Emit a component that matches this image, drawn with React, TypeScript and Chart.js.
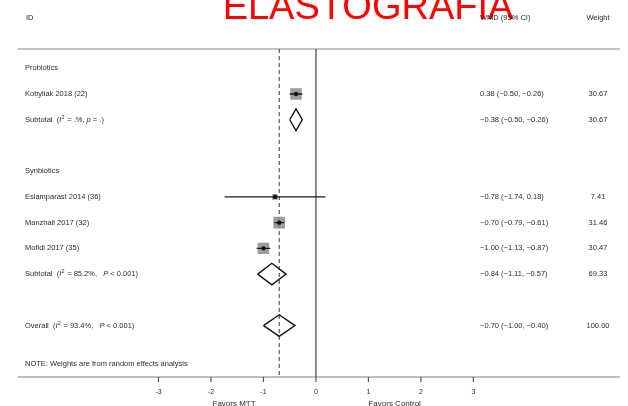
import React, { useEffect, useRef } from "react";
import { Chart, registerables } from "chart.js";

Chart.register(...registerables);

// ---------- data ----------
const headings = ["Probiotics", "Synbiotics"];
const headingRows = [0, 4];

const studyLabels = ["Kobyliak 2018 (22)", "Eslamparast 2014 (36)", "Manzhali 2017 (32)", "Mofidi 2017 (35)"];
const studyRows = [1, 5, 6, 7];
const studyEst = [-0.38, -0.78, -0.7, -1.0];
const studyLo = [-0.5, -1.74, -0.79, -1.13];
const studyHi = [-0.26, 0.18, -0.61, -0.87];
const studyWeight = [30.67, 7.41, 31.46, 30.47];
const studyText = [
  "0.38 (\u22120.50, \u22120.26)",
  "\u22120.78 (\u22121.74, 0.18)",
  "\u22120.70 (\u22120.79, \u22120.61)",
  "\u22121.00 (\u22121.13, \u22120.87)",
];
const studyWeightText = ["30.67", "7.41", "31.46", "30.47"];

const pooledLabels = ["Subtotal", "Subtotal", "Overall"];
const pooledRows = [2, 8, 10];
const pooledEst = [-0.38, -0.84, -0.7];
const pooledLo = [-0.5, -1.11, -1.0];
const pooledHi = [-0.26, -0.57, -0.4];
const pooledI2 = [".%", "85.2%", "93.4%"];
const pooledP = [["p", " = .)"], ["P", " < 0.001)"], ["P", " < 0.001)"]];
const pooledText = [
  "\u22120.38 (\u22120.50, \u22120.26)",
  "\u22120.84 (\u22121.11, \u22120.57)",
  "\u22120.70 (\u22121.00, \u22120.40)",
];
const pooledWeightText = ["30.67", "69.33", "100.00"];

const overallEffect = -0.7;
const xTicks = [-3, -2, -1, 0, 1, 2, 3];
const noteText = "NOTE: Weights are from random effects analysis";
const noteRow = 11.5;
const titleText = "ELASTOGRAFIA";
const headerTexts = ["ID", "WMD (95% CI)", "Weight"];
const favorsTexts = ["Favors MTT", "Favors Control"];

// ---------- layout ----------
const W = 628;
const H = 406;
const X_MIN = -5.677;
const X_MAX = 5.789;
const Y_MIN = -0.75;
const Y_MAX = 12.0;
const FONT = "'Liberation Sans', Arial, sans-serif";
const TXT = "#2b2b2b";

export default function App() {
  const ref = useRef<HTMLCanvasElement | null>(null);

  useEffect(() => {
    if (!ref.current) return;

    const squareR = studyWeight.map((w) => (11.5 * Math.sqrt(w / 30.67)) / 1.414);
    const h = 0.42;

    const datasets: any[] = [];

    // frame lines
    datasets.push({
      data: [{ x: X_MIN, y: Y_MIN }, { x: X_MAX, y: Y_MIN }],
      showLine: true, borderColor: "#b0b0b0", borderWidth: 1.5, pointRadius: 0, clip: false, order: 9,
    });
    datasets.push({
      data: [{ x: X_MIN, y: Y_MAX }, { x: X_MAX, y: Y_MAX }],
      showLine: true, borderColor: "#a8a8a8", borderWidth: 1.5, pointRadius: 0, clip: false, order: 9,
    });
    // null line
    datasets.push({
      data: [{ x: 0, y: Y_MIN }, { x: 0, y: Y_MAX }],
      showLine: true, borderColor: "#666666", borderWidth: 1.5, pointRadius: 0, clip: false, order: 8,
    });
    // overall dashed line
    datasets.push({
      data: [{ x: overallEffect, y: Y_MIN }, { x: overallEffect, y: Y_MAX }],
      showLine: true, borderColor: "#333333", borderWidth: 1, borderDash: [4, 3], pointRadius: 0, clip: false, order: 8,
    });
    // weight squares
    datasets.push({
      data: studyEst.map((e, i) => ({ x: e, y: studyRows[i] })),
      pointStyle: "rect", pointRadius: squareR, backgroundColor: "rgba(140,140,140,0.85)",
      borderWidth: 0, order: 6,
    });
    // CI lines
    studyEst.forEach((_, i) => {
      datasets.push({
        data: [{ x: studyLo[i], y: studyRows[i] }, { x: studyHi[i], y: studyRows[i] }],
        showLine: true, borderColor: "#1a1a1a", borderWidth: 1.4, pointRadius: 0, order: 3,
      });
    });
    // point estimates
    datasets.push({
      data: studyEst.map((e, i) => ({ x: e, y: studyRows[i] })),
      pointStyle: "circle", pointRadius: 2.2, backgroundColor: "#111111", borderWidth: 0, order: 1,
    });
    // diamonds
    pooledEst.forEach((e, i) => {
      const r = pooledRows[i];
      datasets.push({
        data: [
          { x: pooledLo[i], y: r },
          { x: e, y: r - h },
          { x: pooledHi[i], y: r },
          { x: e, y: r + h },
          { x: pooledLo[i], y: r },
        ],
        showLine: true, borderColor: "#111111", borderWidth: 1.4, pointRadius: 0, order: 2,
        borderJoinStyle: "miter",
      });
    });

    const textPlugin = {
      id: "forestText",
      afterDraw(chart: any) {
        const ctx = chart.ctx as CanvasRenderingContext2D;
        const ys = chart.scales.y;
        const xs = chart.scales.x;
        const yp = (r: number) => ys.getPixelForValue(r);
        ctx.save();

        // title
        ctx.fillStyle = "#ff0000";
        ctx.font = `38px ${FONT}`;
        ctx.textAlign = "center";
        ctx.textBaseline = "alphabetic";
        ctx.fillText(titleText, 368, 19);

        ctx.textBaseline = "middle";
        ctx.fillStyle = TXT;
        ctx.font = `7.5px ${FONT}`;
        ctx.textAlign = "left";
        ctx.fillText(headerTexts[0], 26, 18);
        ctx.fillText(headerTexts[1], 480, 18);
        ctx.textAlign = "center";
        ctx.fillText(headerTexts[2], 598, 18);

        ctx.textAlign = "left";
        headings.forEach((t, i) => ctx.fillText(t, 25, yp(headingRows[i])));
        studyLabels.forEach((t, i) => {
          ctx.textAlign = "left";
          ctx.fillText(t, 25, yp(studyRows[i]));
          ctx.fillText(studyText[i], 480, yp(studyRows[i]));
          ctx.textAlign = "center";
          ctx.fillText(studyWeightText[i], 598, yp(studyRows[i]));
        });

        pooledLabels.forEach((t, i) => {
          const y = yp(pooledRows[i]);
          let x = 25;
          const seg = (s: string, italic: boolean) => {
            ctx.font = `${italic ? "italic " : ""}7.5px ${FONT}`;
            ctx.textAlign = "left";
            ctx.fillText(s, x, y);
            x += ctx.measureText(s).width;
          };
          seg(t + "  (", false);
          seg("I", true);
          ctx.font = `5.5px ${FONT}`;
          ctx.fillText("2", x + 0.3, y - 2.5);
          x += ctx.measureText("2").width + 0.8;
          seg(" = " + pooledI2[i] + (i === 0 ? ", " : ",   "), false);
          seg(pooledP[i][0], true);
          seg(pooledP[i][1], false);

          ctx.font = `7.5px ${FONT}`;
          ctx.fillText(pooledText[i], 480, y);
          ctx.textAlign = "center";
          ctx.fillText(pooledWeightText[i], 598, y);
        });

        ctx.textAlign = "left";
        ctx.font = `7.5px ${FONT}`;
        ctx.fillText(noteText, 25, yp(noteRow));

        // x ticks
        const yb = ys.getPixelForValue(Y_MAX);
        ctx.strokeStyle = "#555555";
        ctx.lineWidth = 1.2;
        ctx.font = `7px ${FONT}`;
        ctx.textAlign = "center";
        xTicks.forEach((v) => {
          const x = xs.getPixelForValue(v);
          ctx.beginPath();
          ctx.moveTo(x, yb);
          ctx.lineTo(x, yb + 5);
          ctx.stroke();
          ctx.fillText(String(v), x, yb + 15);
        });

        ctx.font = `8px ${FONT}`;
        ctx.fillText(favorsTexts[0], xs.getPixelForValue(-1.56), yb + 27);
        ctx.fillText(favorsTexts[1], xs.getPixelForValue(1.5), yb + 27);
        ctx.restore();
      },
    };

    const chart = new Chart(ref.current, {
      type: "scatter",
      data: { datasets },
      options: {
        responsive: false,
        animation: false,
        events: [],
        layout: { padding: { left: 18, right: 0, top: 49, bottom: H - 377 } },
        plugins: { legend: { display: false }, tooltip: { enabled: false } },
        scales: {
          x: { type: "linear", min: X_MIN, max: X_MAX, display: false },
          y: { type: "linear", min: Y_MIN, max: Y_MAX, reverse: true, display: false },
        },
      },
      plugins: [textPlugin],
    });
    return () => chart.destroy();
  }, []);

  return (
    <div style={{ position: "absolute", left: 0, top: 0, width: W, height: H, background: "#fff" }}>
      <canvas ref={ref} width={W} height={H} style={{ display: "block" }} />
    </div>
  );
}
